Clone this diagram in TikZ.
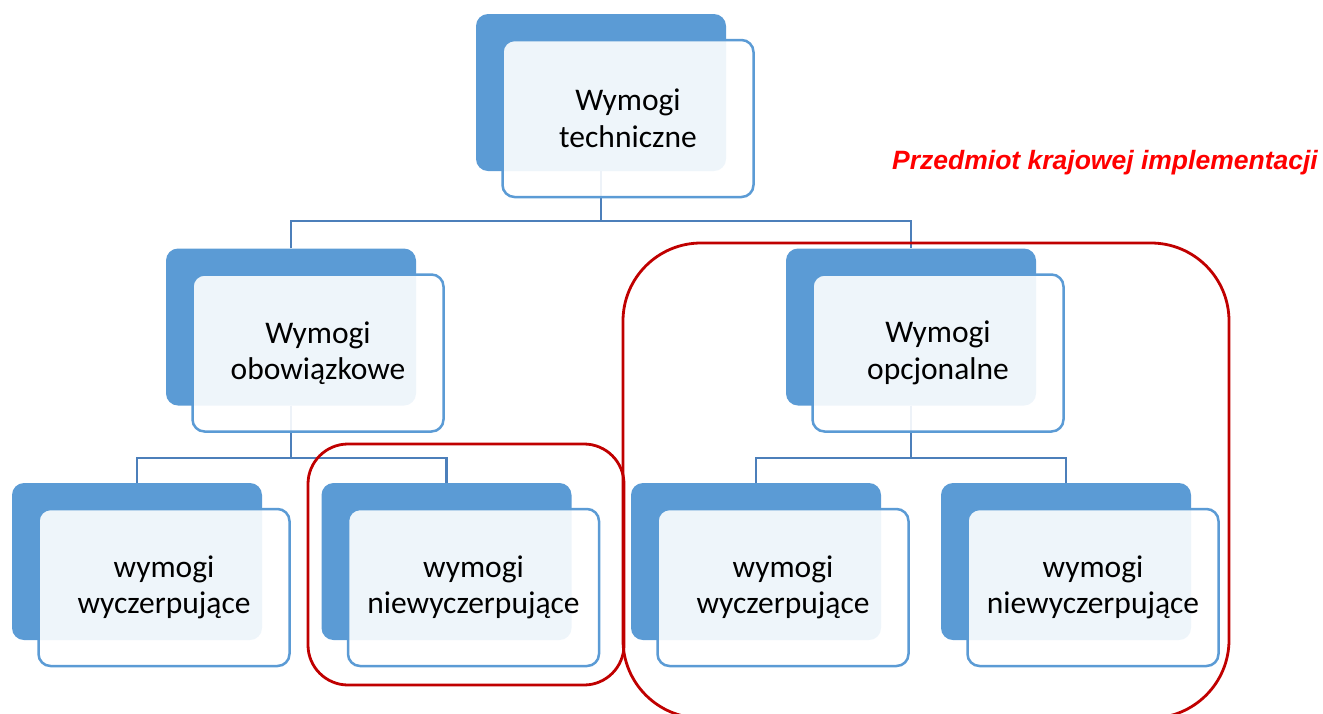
\documentclass[tikz,border=0pt]{standalone}
\usepackage{fontspec}
\setmainfont{Carlito}
\newfontfamily\redfont{Liberation Sans}
\definecolor{backblue}{HTML}{5B9BD5}
\definecolor{frontline}{HTML}{5B9BD5}
\definecolor{connblue}{HTML}{4C7FBA}
\definecolor{darkred}{HTML}{C00000}
\definecolor{brightred}{HTML}{FF0000}
\tikzset{
  backcard/.style={fill=backblue, draw=none, rounded corners=12pt, minimum width=250pt, minimum height=157pt, inner sep=0pt},
  frontcard/.style={fill=white, fill opacity=0.9, draw=frontline, line width=2.5pt, rounded corners=12pt, minimum width=251pt, minimum height=157pt, inner sep=0pt, text opacity=1, align=center, font=\fontsize{31.5}{36.5}\selectfont},
  conn/.style={draw=connblue, line width=2.8pt},
  redbox/.style={draw=darkred, line width=2.8pt},
  redlabel/.style={text=brightred, font=\redfont\bfseries\itshape\fontsize{26.5}{30}\selectfont, inner sep=0pt, anchor=base west}
}
\begin{document}
\begin{tikzpicture}[x=1pt,y=-1pt]
\useasboundingbox (0,0) rectangle (1323,713);
\clip (0,0) rectangle (1323,713);
% back cards
\node[backcard] (tb) at (601,92.5) {};
\node[backcard] (ob) at (291,327) {};
\node[backcard] (pb) at (911,327) {};
\node[backcard] (owb) at (137,561.5) {};
\node[backcard] (onb) at (446.5,561.5) {};
\node[backcard] (pwb) at (756,561.5) {};
\node[backcard] (pnb) at (1066,561.5) {};
% connectors
\coordinate (bus1) at (0,221);
\coordinate (bus2) at (0,458);
\draw[conn] (tb.south) -- (tb.south |- bus1);
\draw[conn] (ob.north) -- (ob.north |- bus1) -| (pb.north);
\draw[conn] (ob.south) -- (ob.south |- bus2);
\draw[conn] (owb.north) -- (owb.north |- bus2) -| (onb.north);
\draw[conn] (pb.south) -- (pb.south |- bus2);
\draw[conn] (pwb.north) -- (pwb.north |- bus2) -| (pnb.north);
% front cards
\node[frontcard] (t) at (628,118.5) {Wymogi\\techniczne};
\node[frontcard] (o) at (318,353) {Wymogi\\obowiązkowe};
\node[frontcard] (p) at (938,353) {Wymogi\\opcjonalne};
\node[frontcard] (ow) at (164,587.5) {wymogi\\wyczerpujące};
\node[frontcard] (on) at (473.5,587.5) {wymogi\\niewyczerpujące};
\node[frontcard] (pw) at (783,587.5) {wymogi\\wyczerpujące};
\node[frontcard] (pn) at (1093,587.5) {wymogi\\niewyczerpujące};
% red frames
\draw[redbox, rounded corners=40pt] (308,444) rectangle (624,685);
\draw[redbox, rounded corners=78pt] (623,243) rectangle (1229,718);
\node[redlabel] (lbl) at (892,169) {Przedmiot krajowej implementacji};
\end{tikzpicture}
\end{document}
